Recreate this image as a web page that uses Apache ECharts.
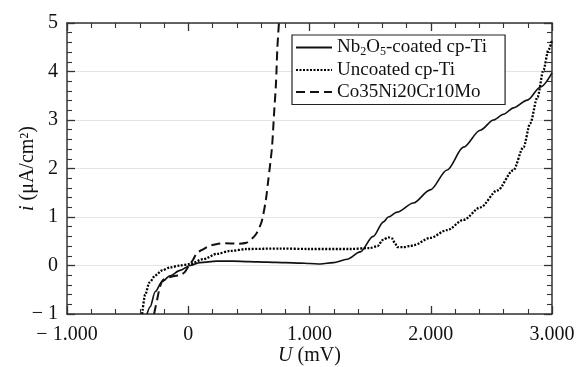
<!DOCTYPE html>
<html>
<head>
<meta charset="utf-8">
<script src="https://cdn.jsdelivr.net/npm/echarts@6/dist/echarts.min.js"></script>
<style>
  html, body { margin: 0; padding: 0; background: #fff; }
  #main { width: 579px; height: 367px; }
</style>
</head>
<body>
<div id="main"></div>
<script>
// 数据 -------------
var coatedU = [-340, -314, -273, -215, -150, -68, 15, 97, 235, 370, 500, 650, 800, 925, 1000, 1090, 1197, 1310, 1418, 1525, 1610, 1650, 1722, 1857, 1996, 2135, 2270, 2408, 2518, 2600, 2683, 2797, 2905, 3000];
var coatedI = [-1, -0.85, -0.54, -0.33, -0.21, -0.1, 0, 0.06, 0.09, 0.09, 0.08, 0.07, 0.06, 0.05, 0.04, 0.03, 0.06, 0.13, 0.28, 0.6, 0.9, 1.0, 1.1, 1.29, 1.56, 1.97, 2.44, 2.79, 3.0, 3.12, 3.25, 3.41, 3.68, 3.97];

var uncoatedU = [-380, -355, -320, -270, -215, -150, -68, 15, 122, 237, 345, 485, 757, 1000, 1335, 1500, 1560, 1607, 1650, 1680, 1705, 1725, 1775, 1830, 1860, 1995, 2135, 2270, 2410, 2550, 2680, 2765, 2820, 2880, 2930, 2970, 3000];
var uncoatedI = [-1, -0.6, -0.35, -0.2, -0.1, -0.04, 0, 0.03, 0.13, 0.24, 0.3, 0.34, 0.35, 0.34, 0.34, 0.36, 0.4, 0.53, 0.58, 0.56, 0.46, 0.38, 0.38, 0.4, 0.42, 0.57, 0.73, 0.94, 1.2, 1.55, 1.96, 2.44, 2.93, 3.47, 4.03, 4.44, 4.65];

var alloyU = [-282, -258, -233, -208, -126, -68, -27, 6, 40, 72, 113, 170, 230, 300, 400, 480, 520, 560, 590, 610, 640, 658, 690, 707, 724, 735, 748];
var alloyI = [-1, -0.72, -0.44, -0.3, -0.22, -0.2, -0.13, 0, 0.12, 0.26, 0.32, 0.4, 0.44, 0.46, 0.45, 0.47, 0.54, 0.65, 0.8, 0.95, 1.35, 1.72, 2.42, 3.1, 3.78, 4.49, 5.0];

var seriesNames = ['Nb2O5-coated cp-Ti', 'Uncoated cp-Ti', 'Co35Ni20Cr10Mo'];

function zip(xs, ys) {
    return xs.map(function (x, k) { return [x, ys[k]]; });
}

// 横轴标签: −1.000 这种写法
function fmtU(v) {
    if (v === 0) return '0';
    var s = (Math.abs(v) / 1000).toFixed(3);
    return (v < 0 ? '\u2212 ' : '') + s;
}
function fmtI(v) {
    return v < 0 ? '\u2212 ' + Math.abs(v) : '' + v;
}

var FONT = '"Liberation Serif", "Times New Roman", serif';
var AXIS_COLOR = '#333';

var tickBase = {
    axisLine: { show: true, onZero: false, lineStyle: { color: AXIS_COLOR, width: 1.5 } },
    axisTick: { show: true, inside: true, length: 8, lineStyle: { color: AXIS_COLOR, width: 1.3 } },
    minorTick: { show: true, splitNumber: 5, length: 5, lineStyle: { color: AXIS_COLOR, width: 1.1 } }
};

var myChart = echarts.init(document.getElementById('main'));

var option = {
    animation: false,
    backgroundColor: '#fff',
    grid: { left: 67, right: 27, top: 23, bottom: 53, outerBoundsMode: 'none', containLabel: false },
    legend: {
        orient: 'vertical',
        left: 292,
        top: 35,
        padding: [3, 18, 3, 3],
        itemGap: 3,
        itemWidth: 36,
        itemHeight: 14,
        backgroundColor: '#fff',
        borderColor: '#222',
        borderWidth: 1.2,
        itemStyle: { opacity: 0 },
        data: seriesNames,
        formatter: function (name) {
            if (name === seriesNames[0]) {
                return '{n|Nb}{s|2}{n|O}{s|5}{n|-coated cp-Ti}';
            }
            return '{n|' + name + '}';
        },
        textStyle: {
            fontFamily: FONT,
            fontSize: 19,
            color: '#111',
            rich: {
                n: { fontFamily: FONT, fontSize: 19, color: '#111', lineHeight: 20 },
                s: { fontFamily: FONT, fontSize: 12, color: '#111', lineHeight: 20, verticalAlign: 'bottom', padding: [6, 0, 0, 0] }
            }
        }
    },
    xAxis: [
        Object.assign({
            type: 'value',
            min: -1000,
            max: 3000,
            interval: 1000,
            position: 'bottom',
            name: '{it|U} (mV)',
            nameLocation: 'middle',
            nameGap: 32,
            nameMoveOverlap: false,
            nameTextStyle: {
                fontFamily: FONT, fontSize: 20, color: '#111',
                rich: { it: { fontFamily: FONT, fontSize: 20, fontStyle: 'italic', color: '#111' } }
            },
            axisLabel: { formatter: fmtU, fontFamily: FONT, fontSize: 20, color: '#111', margin: 11 },
            splitLine: { show: false }
        }, tickBase),
        Object.assign({
            type: 'value',
            min: -1000,
            max: 3000,
            interval: 1000,
            position: 'top',
            axisLabel: { show: false },
            splitLine: { show: false }
        }, tickBase)
    ],
    yAxis: [
        Object.assign({
            type: 'value',
            min: -1,
            max: 5,
            interval: 1,
            position: 'left',
            name: '{it|i} (\u03bcA/cm\u00b2)',
            nameLocation: 'middle',
            nameGap: 29,
            nameMoveOverlap: false,
            nameTextStyle: {
                fontFamily: FONT, fontSize: 20, color: '#111',
                rich: { it: { fontFamily: FONT, fontSize: 20, fontStyle: 'italic', color: '#111' } }
            },
            axisLabel: { formatter: fmtI, fontFamily: FONT, fontSize: 20, color: '#111', margin: 9 },
            splitLine: { show: true, lineStyle: { color: '#e4e4e4', width: 1 } }
        }, tickBase),
        Object.assign({
            type: 'value',
            min: -1,
            max: 5,
            interval: 1,
            position: 'right',
            axisLabel: { show: false },
            splitLine: { show: false }
        }, tickBase)
    ],
    series: [
        {
            name: seriesNames[0],
            type: 'line',
            data: zip(coatedU, coatedI),
            showSymbol: false,
            symbol: 'none',
            smooth: 0.3,
            smoothMonotone: 'x',
            clip: true,
            lineStyle: { color: '#111', width: 1.6, type: 'solid' },
            itemStyle: { color: '#111' }
        },
        {
            name: seriesNames[1],
            type: 'line',
            data: zip(uncoatedU, uncoatedI),
            showSymbol: false,
            symbol: 'none',
            smooth: 0.3,
            smoothMonotone: 'x',
            clip: true,
            lineStyle: { color: '#000', width: 2.3, type: [2, 1.5] },
            itemStyle: { color: '#111' }
        },
        {
            name: seriesNames[2],
            type: 'line',
            data: zip(alloyU, alloyI),
            showSymbol: false,
            symbol: 'none',
            smooth: 0.3,
            clip: true,
            lineStyle: { color: '#111', width: 2, type: [9, 5] },
            itemStyle: { color: '#111' }
        }
    ]
};

myChart.setOption(option);

window.onresize = function () {
    myChart.resize();
};
</script>
</body>
</html>
